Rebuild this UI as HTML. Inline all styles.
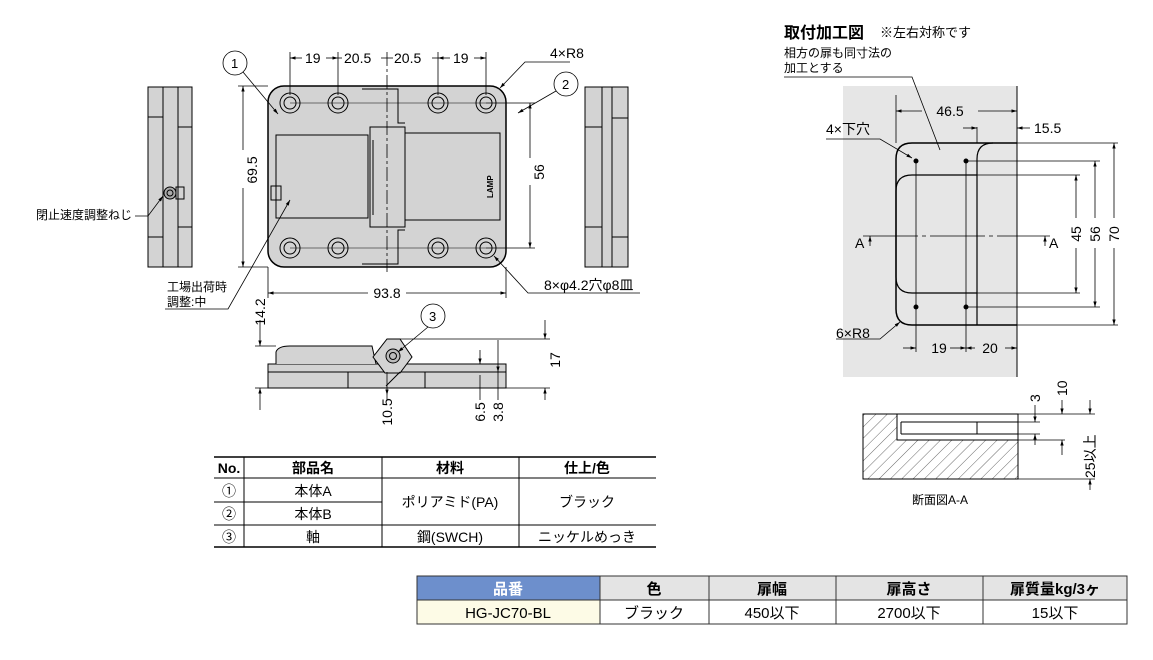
<!DOCTYPE html>
<html><head><meta charset="utf-8"><style>
body{margin:0;background:#fff;width:1153px;height:655px;overflow:hidden}
svg{font-family:"Liberation Sans","Noto Sans CJK JP",sans-serif}
</style></head><body>
<svg width="1153" height="655" viewBox="0 0 1153 655" xmlns="http://www.w3.org/2000/svg">
<defs>
<marker id="a" viewBox="0 0 10 10" refX="10" refY="5" markerWidth="7" markerHeight="7" orient="auto-start-reverse"><path d="M0,2L10,5L0,8z" fill="#000"/></marker>
<pattern id="h" width="8" height="8" patternUnits="userSpaceOnUse" patternTransform="rotate(45)"><line x1="0" y1="0" x2="0" y2="8" stroke="#444" stroke-width="0.8"/></pattern>
</defs>
<g stroke="#000" stroke-width="1" fill="none" font-size="12">
<!-- left side view -->
<rect x="148" y="87" width="44" height="180" fill="#d3d3d3"/>
<line x1="163" y1="87" x2="163" y2="267"/><line x1="178" y1="87" x2="178" y2="267"/>
<line x1="148" y1="117" x2="163" y2="117"/><line x1="148" y1="237" x2="163" y2="237"/>
<line x1="178" y1="127" x2="192" y2="127"/><line x1="178" y1="227" x2="192" y2="227"/>
<circle cx="170" cy="193" r="6" fill="#aaa"/><circle cx="170" cy="193" r="3"/>
<rect x="176" y="187" width="8" height="12"/>
<!-- right side view -->
<rect x="585" y="87" width="43" height="180" fill="#d3d3d3"/>
<line x1="602" y1="87" x2="602" y2="267"/><line x1="612" y1="87" x2="612" y2="267"/>
<line x1="612" y1="118" x2="628" y2="118"/><line x1="612" y1="237" x2="628" y2="237"/>
<line x1="585" y1="127" x2="602" y2="127"/><line x1="585" y1="227" x2="602" y2="227"/>
<!-- main body -->
<rect x="268" y="86" width="238" height="181" rx="16" fill="#d3d3d3" stroke-width="1.5"/>
<rect x="276" y="135" width="92" height="83" fill="#d3d3d3"/>
<path d="M403,133H500V220H403" fill="#d3d3d3"/>
<path d="M362,89H398V123H405" />
<path d="M362,264H398V230H405" />
<rect x="370" y="127" width="35" height="100" fill="#d3d3d3"/>
<line x1="373" y1="140" x2="373" y2="215"/>
<rect x="271" y="186" width="10" height="14"/>
<g fill="#d3d3d3">
<circle cx="290" cy="103" r="10"/><circle cx="290" cy="103" r="6"/>
<circle cx="338" cy="103" r="10"/><circle cx="338" cy="103" r="6"/>
<circle cx="438" cy="103" r="10"/><circle cx="438" cy="103" r="6"/>
<circle cx="486" cy="103" r="10"/><circle cx="486" cy="103" r="6"/>
<circle cx="290" cy="248" r="10"/><circle cx="290" cy="248" r="6"/>
<circle cx="338" cy="248" r="10"/><circle cx="338" cy="248" r="6"/>
<circle cx="438" cy="248" r="10"/><circle cx="438" cy="248" r="6"/>
<circle cx="486" cy="248" r="10"/><circle cx="486" cy="248" r="6"/>
</g>
<line x1="387" y1="52" x2="387" y2="272" stroke-dasharray="14,3,3,3" stroke-width="0.8"/>
<line x1="290" y1="103" x2="486" y2="103" stroke-width="0.6"/>
<line x1="290" y1="248" x2="486" y2="248" stroke-width="0.6"/>
<g stroke-width="0.8">
<line x1="290" y1="52" x2="290" y2="95"/><line x1="338" y1="52" x2="338" y2="95"/><line x1="438" y1="52" x2="438" y2="95"/><line x1="486" y1="52" x2="486" y2="95"/>
<line x1="290" y1="58" x2="302" y2="58" marker-start="url(#a)"/><line x1="326" y1="58" x2="338" y2="58" marker-end="url(#a)"/>
<line x1="338" y1="58" x2="342" y2="58"/><line x1="381" y1="58" x2="393" y2="58"/><line x1="432" y1="58" x2="438" y2="58"/>
<line x1="438" y1="58" x2="450" y2="58" marker-start="url(#a)"/><line x1="474" y1="58" x2="486" y2="58" marker-end="url(#a)"/>
<line x1="238" y1="86" x2="268" y2="86"/><line x1="238" y1="267" x2="268" y2="267"/>
<line x1="243" y1="86" x2="243" y2="150" marker-start="url(#a)"/><line x1="243" y1="188" x2="243" y2="267" marker-end="url(#a)"/>
<line x1="486" y1="103" x2="535" y2="103"/><line x1="486" y1="248" x2="535" y2="248"/>
<line x1="530" y1="103" x2="530" y2="158" marker-start="url(#a)"/><line x1="530" y1="185" x2="530" y2="248" marker-end="url(#a)"/>
<line x1="268" y1="267" x2="268" y2="298"/><line x1="506" y1="267" x2="506" y2="298"/>
<line x1="268" y1="293" x2="368" y2="293" marker-start="url(#a)"/><line x1="406" y1="293" x2="506" y2="293" marker-end="url(#a)"/>
</g>
<circle cx="235" cy="63" r="12" stroke-width="0.8"/><circle cx="566" cy="84" r="12" stroke-width="0.8"/>
<g stroke-width="0.8">
<line x1="243" y1="72" x2="278" y2="114" marker-end="url(#a)"/>
<line x1="556" y1="91" x2="518" y2="113" marker-end="url(#a)"/>
<path d="M570,62H525L500,88" marker-end="url(#a)"/>
<path d="M640,293H528L494,256" marker-end="url(#a)"/>
<path d="M165,309H228L290,200" marker-end="url(#a)"/>
<path d="M135,216H148L163,196" marker-end="url(#a)"/>
</g>
<!-- bottom view -->
<path d="M268,364H506V388H268Z" fill="#d3d3d3"/>
<path d="M276,364V352Q278,346 290,346H372L376,364" fill="#d3d3d3"/>
<line x1="268" y1="372" x2="506" y2="372"/>
<line x1="348" y1="372" x2="348" y2="388"/><line x1="425" y1="372" x2="425" y2="388"/>
<path d="M373,357L387,339H400L412,357L400,373H385Z" fill="#d3d3d3"/>
<circle cx="393" cy="356" r="7" fill="#bbb"/><circle cx="393" cy="356" r="3.5"/>
<line x1="386" y1="386" x2="400" y2="372"/>
<circle cx="433" cy="316" r="12" stroke-width="0.8"/>
<line x1="428" y1="327" x2="398" y2="352" marker-end="url(#a)" stroke-width="0.8"/>
<g stroke-width="0.8">
<line x1="255" y1="346" x2="276" y2="346"/><line x1="255" y1="388" x2="268" y2="388"/>
<line x1="260" y1="320" x2="260" y2="346" marker-end="url(#a)"/><line x1="260" y1="410" x2="260" y2="388" marker-end="url(#a)"/>
<line x1="400" y1="339" x2="550" y2="339"/><line x1="506" y1="388" x2="550" y2="388"/>
<line x1="545" y1="320" x2="545" y2="339" marker-end="url(#a)"/><line x1="545" y1="400" x2="545" y2="388" marker-end="url(#a)"/>
<line x1="387" y1="372" x2="387" y2="395" marker-end="url(#a)"/><line x1="387" y1="395" x2="387" y2="400"/>
<line x1="480" y1="350" x2="480" y2="364" marker-end="url(#a)"/><line x1="480" y1="375" x2="480" y2="400"/>
<line x1="498" y1="340" x2="498" y2="372" marker-end="url(#a)"/><line x1="498" y1="372" x2="498" y2="400"/>
</g>
<!-- right install drawing -->
<rect x="843" y="86" width="174" height="291" fill="#e6e6e6" stroke="none"/>
<line x1="1017" y1="86" x2="1017" y2="377"/>
<path d="M1017,143H912Q896,143 896,159V309Q896,325 912,325H1017" stroke-width="1.5"/>
<path d="M977,325V159Q977,143 993,143" stroke-width="1.2"/>
<path d="M977,175H912Q896,175 896,191V277Q896,293 912,293H977" stroke-width="1.2"/>
<g fill="#000"><circle cx="916" cy="161" r="2"/><circle cx="966" cy="161" r="2"/><circle cx="916" cy="307" r="2"/><circle cx="966" cy="307" r="2"/></g>
<g stroke-width="0.8">
<line x1="863" y1="236" x2="1050" y2="236" stroke-dasharray="55,4,4,4"/>
<line x1="896" y1="95" x2="896" y2="143"/>
<line x1="896" y1="111" x2="922" y2="111" marker-start="url(#a)"/><line x1="978" y1="111" x2="1017" y2="111" marker-end="url(#a)"/>
<line x1="977" y1="127" x2="977" y2="143"/>
<line x1="963" y1="128" x2="977" y2="128" marker-end="url(#a)"/><line x1="1030" y1="128" x2="1017" y2="128" marker-end="url(#a)"/>
<line x1="1017" y1="143" x2="1118" y2="143"/><line x1="1017" y1="325" x2="1118" y2="325"/>
<line x1="966" y1="161" x2="1100" y2="161"/><line x1="966" y1="307" x2="1100" y2="307"/>
<line x1="977" y1="175" x2="1080" y2="175"/><line x1="977" y1="293" x2="1080" y2="293"/>
<line x1="1114" y1="143" x2="1114" y2="218" marker-start="url(#a)"/><line x1="1114" y1="248" x2="1114" y2="325" marker-end="url(#a)"/>
<line x1="1095" y1="161" x2="1095" y2="218" marker-start="url(#a)"/><line x1="1095" y1="248" x2="1095" y2="307" marker-end="url(#a)"/>
<line x1="1076" y1="175" x2="1076" y2="218" marker-start="url(#a)"/><line x1="1076" y1="248" x2="1076" y2="293" marker-end="url(#a)"/>
<line x1="916" y1="161" x2="916" y2="352"/><line x1="966" y1="161" x2="966" y2="352"/>
<line x1="903" y1="348" x2="916" y2="348" marker-end="url(#a)"/><line x1="950" y1="348" x2="966" y2="348" marker-end="url(#a)"/>
<line x1="966" y1="348" x2="975" y2="348" marker-start="url(#a)"/><line x1="1005" y1="348" x2="1017" y2="348" marker-end="url(#a)"/>
<line x1="870" y1="246" x2="870" y2="236" marker-end="url(#a)"/><line x1="1045" y1="246" x2="1045" y2="236" marker-end="url(#a)"/>
<path d="M784,77H912L940,150"/>
<path d="M826,139H880L912,158" marker-end="url(#a)"/>
<path d="M836,339H880L900,322" marker-end="url(#a)"/>
</g>
<!-- section -->
<rect x="863" y="414" width="155" height="65" fill="url(#h)"/>
<rect x="897" y="414" width="121" height="26" fill="#fff" stroke="none"/>
<path d="M863,414H1018V479H863Z"/>
<path d="M897,414V440H1018"/>
<line x1="901" y1="422" x2="1018" y2="422"/><line x1="901" y1="422" x2="901" y2="434"/><line x1="901" y1="434" x2="1018" y2="434"/>
<line x1="977" y1="422" x2="977" y2="434"/>
<g stroke-width="0.8">
<line x1="1018" y1="414" x2="1095" y2="414"/><line x1="1018" y1="440" x2="1065" y2="440"/><line x1="1018" y1="479" x2="1095" y2="479"/>
<line x1="1018" y1="422" x2="1040" y2="422"/><line x1="1018" y1="434" x2="1040" y2="434"/>
<line x1="1035" y1="405" x2="1035" y2="422" marker-end="url(#a)"/><line x1="1035" y1="445" x2="1035" y2="434" marker-end="url(#a)"/>
<line x1="1062" y1="400" x2="1062" y2="414" marker-end="url(#a)"/><line x1="1062" y1="455" x2="1062" y2="440" marker-end="url(#a)"/>
<line x1="1090" y1="400" x2="1090" y2="414" marker-end="url(#a)"/><line x1="1090" y1="490" x2="1090" y2="479" marker-end="url(#a)"/>
</g>
</g>
<g font-size="14" fill="#000">
<text x="305" y="63">19</text><text x="344" y="63">20.5</text><text x="394" y="63">20.5</text><text x="453" y="63">19</text>
<text x="550" y="58">4×R8</text>
<text x="231" y="68" font-size="13">1</text><text x="562" y="89" font-size="13">2</text><text x="429" y="321" font-size="13">3</text>
<text transform="translate(257,170) rotate(-90)" text-anchor="middle">69.5</text>
<text transform="translate(544,172) rotate(-90)" text-anchor="middle">56</text>
<text x="387" y="298" text-anchor="middle">93.8</text>
<text x="544" y="290">8×φ4.2穴φ8皿</text>
<text x="36" y="219" font-size="12">閉止速度調整ねじ</text>
<text x="167" y="291" font-size="12">工場出荷時</text><text x="167" y="306" font-size="12">調整:中</text>
<text transform="translate(265,312) rotate(-90)" text-anchor="middle">14.2</text>
<text transform="translate(560,360) rotate(-90)" text-anchor="middle">17</text>
<text transform="translate(392,412) rotate(-90)" text-anchor="middle">10.5</text>
<text transform="translate(485,412) rotate(-90)" text-anchor="middle">6.5</text>
<text transform="translate(503,412) rotate(-90)" text-anchor="middle">3.8</text>
<text transform="translate(493,198) rotate(-90)" font-size="8" font-weight="bold">LAMP</text>
<text x="784" y="38" font-size="16" font-weight="bold">取付加工図</text><text x="880" y="37" font-size="13">※左右対称です</text>
<text x="784" y="57" font-size="12">相方の扉も同寸法の</text><text x="784" y="72" font-size="12">加工とする</text>
<text x="950" y="116" text-anchor="middle">46.5</text><text x="1034" y="133">15.5</text>
<text x="826" y="134">4×下穴</text><text x="836" y="338">6×R8</text>
<text x="939" y="353" text-anchor="middle">19</text><text x="990" y="353" text-anchor="middle">20</text>
<text x="855" y="248">A</text><text x="1049" y="248">A</text>
<text transform="translate(1081,234) rotate(-90)" text-anchor="middle">45</text>
<text transform="translate(1100,234) rotate(-90)" text-anchor="middle">56</text>
<text transform="translate(1119,234) rotate(-90)" text-anchor="middle">70</text>
<text transform="translate(1040,402) rotate(-90)">3</text>
<text transform="translate(1067,396) rotate(-90)">10</text>
<text transform="translate(1095,478) rotate(-90)">25以上</text>
<text x="912" y="504" font-size="12">断面図A-A</text>
</g>
<g stroke="#000" stroke-width="1">
<line x1="214" y1="457" x2="656" y2="457" stroke-width="1.5"/>
<line x1="214" y1="478" x2="656" y2="478"/>
<line x1="214" y1="502" x2="382" y2="502"/>
<line x1="214" y1="525" x2="656" y2="525"/>
<line x1="214" y1="547" x2="656" y2="547" stroke-width="1.5"/>
<line x1="244" y1="457" x2="244" y2="547"/><line x1="382" y1="457" x2="382" y2="547"/><line x1="519" y1="457" x2="519" y2="547"/>
</g>
<g font-size="14" text-anchor="middle" fill="#000">
<text x="229" y="473" font-weight="bold">No.</text><text x="313" y="473" font-weight="bold">部品名</text><text x="450" y="473" font-weight="bold">材料</text><text x="587" y="473" font-weight="bold">仕上/色</text>
<text x="229" y="496">①</text><text x="313" y="496">本体A</text>
<text x="229" y="519">②</text><text x="313" y="519">本体B</text>
<text x="450" y="507">ポリアミド(PA)</text><text x="587" y="507">ブラック</text>
<text x="229" y="542">③</text><text x="313" y="542">軸</text><text x="450" y="542">鋼(SWCH)</text><text x="587" y="542">ニッケルめっき</text>
</g>
<rect x="417" y="576" width="183" height="24" fill="#6d8fcc"/>
<rect x="600" y="576" width="527" height="24" fill="#e4e4e4"/>
<rect x="417" y="600" width="183" height="24" fill="#fdfbe6"/>
<g stroke="#333" stroke-width="1" fill="none">
<rect x="417" y="576" width="710" height="48"/>
<line x1="417" y1="600" x2="1127" y2="600"/>
<line x1="600" y1="576" x2="600" y2="624"/><line x1="709" y1="576" x2="709" y2="624"/><line x1="836" y1="576" x2="836" y2="624"/><line x1="983" y1="576" x2="983" y2="624"/>
</g>
<g font-size="15" text-anchor="middle" fill="#000">
<text x="508" y="594" fill="#fff" font-weight="bold">品番</text><text x="654" y="594" font-weight="bold">色</text><text x="772" y="594" font-weight="bold">扉幅</text><text x="909" y="594" font-weight="bold">扉高さ</text><text x="1055" y="594" font-weight="bold">扉質量kg/3ヶ</text>
<text x="508" y="618">HG-JC70-BL</text><text x="654" y="618">ブラック</text><text x="772" y="618">450以下</text><text x="909" y="618">2700以下</text><text x="1055" y="618">15以下</text>
</g>
</svg>
</body></html>
